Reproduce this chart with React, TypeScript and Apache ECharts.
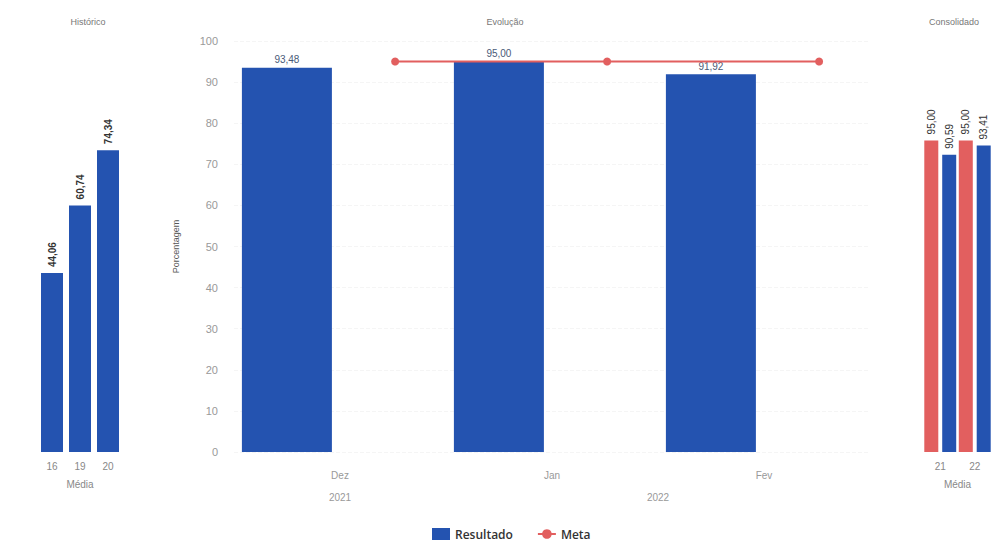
import React, { useEffect, useRef } from "react";
import * as echarts from "echarts";

const HIST_CATEGORIES = ["16", "19", "20"];
const HIST_VALUES = [44.06, 60.74, 74.34];

const MONTHS = ["Dez", "Jan", "Fev"];
const MONTH_YEARS = ["2021", "2022", "2022"];
const RESULTADO = [93.48, 95.0, 91.92];
const META = [95, 95, 95];

const CONS_CATEGORIES = ["21", "22"];
const CONS_META = [95.0, 95.0];
const CONS_RESULTADO = [90.59, 93.41];

const Y_TICKS_MAX = 100;
const Y_TICKS_STEP = 10;

const BLUE = "#2453b0";
const RED = "#e25f5f";
const META_SLOT = 0.26;

const fmt = (v: number) => v.toFixed(2).replace(".", ",");

export default function App() {
  const ref = useRef<HTMLDivElement>(null);
  useEffect(() => {
    if (!ref.current) return;
    const chart = echarts.init(ref.current, null, { renderer: "svg" });

    const yearNames = Array.from(new Set(MONTH_YEARS));
    const yearCenters = yearNames.map((y) => {
      const idx = MONTH_YEARS.map((m, i) => (m === y ? i : -1)).filter((i) => i >= 0);
      return { name: y, at: idx.reduce((a, b) => a + b, 0) / idx.length };
    });

    const font = "'Liberation Sans', Arial, sans-serif";

    chart.setOption({
      animation: false,
      textStyle: { fontFamily: font },
      title: [
        { text: "Histórico", left: 83, top: 12, textAlign: "center", textStyle: { fontSize: 9, fontWeight: "normal", color: "#777", fontFamily: font } },
        { text: "Evolução", left: 500, top: 12, textAlign: "center", textStyle: { fontSize: 9, fontWeight: "normal", color: "#777", fontFamily: font } },
        { text: "Consolidado", left: 924, top: 12, textStyle: { fontSize: 9, fontWeight: "normal", color: "#777", fontFamily: font } },
      ],
      legend: {
        data: [{ name: "Resultado", icon: "rect" }, { name: "Meta" }],
        left: 427,
        top: 523,
        itemWidth: 18,
        itemHeight: 12,
        itemGap: 24,
        textStyle: { fontSize: 12, color: "#333", fontWeight: 600, fontFamily: "'Open Sans', sans-serif" },
      },
      grid: [
        { left: 38, width: 84, top: 46, bottom: 92 },
        { left: 234, right: 122, top: 41, bottom: 92 },
        { left: 923, width: 70, top: 124, bottom: 92 },
      ],
      xAxis: [
        {
          gridIndex: 0, type: "category", data: HIST_CATEGORIES,
          axisLine: { show: false }, axisTick: { show: false },
          axisLabel: { color: "#888", fontSize: 10, margin: 9 },
          name: "Média", nameLocation: "middle", nameGap: 27,
          nameTextStyle: { color: "#888", fontSize: 10 },
        },
        {
          gridIndex: 1, type: "category", data: MONTHS,
          axisLine: { show: false }, axisTick: { show: false },
          axisLabel: { color: "#999", fontSize: 10, margin: 18 },
        },
        {
          gridIndex: 1, type: "value", min: -0.5, max: 2.5, interval: 0.5,
          position: "bottom", offset: 22,
          axisLine: { show: false }, axisTick: { show: false }, splitLine: { show: false },
          axisLabel: {
            color: "#999", fontSize: 10, margin: 18,
            formatter: (v: number) => {
              const f = yearCenters.find((y) => Math.abs(y.at - v) < 1e-6);
              return f ? f.name : "";
            },
          },
        },
        {
          gridIndex: 2, type: "category", data: CONS_CATEGORIES,
          axisLine: { show: false }, axisTick: { show: false },
          axisLabel: { color: "#888", fontSize: 10, margin: 9 },
          name: "Média", nameLocation: "middle", nameGap: 27,
          nameTextStyle: { color: "#888", fontSize: 10 },
        },
      ],
      yAxis: [
        { gridIndex: 0, type: "value", min: 0, max: Y_TICKS_MAX, show: false },
        {
          gridIndex: 1, type: "value", min: 0, max: Y_TICKS_MAX, interval: Y_TICKS_STEP,
          axisLine: { show: false }, axisTick: { show: false },
          axisLabel: { color: "#999", fontSize: 11, margin: 16 },
          splitLine: { lineStyle: { color: "#f5f5f5", type: "dashed" } },
          name: "Porcentagem", nameLocation: "middle", nameGap: 54, nameRotate: 90,
          nameTextStyle: { color: "#555", fontSize: 9 },
        },
        { gridIndex: 2, type: "value", min: 0, max: Y_TICKS_MAX, show: false },
      ],
      series: [
        {
          name: "Histórico", type: "bar", xAxisIndex: 0, yAxisIndex: 0,
          data: HIST_VALUES, barWidth: 22, itemStyle: { color: BLUE },
          label: {
            show: true, position: "top", rotate: 90, align: "left", verticalAlign: "middle",
            distance: 6, fontSize: 10, fontWeight: "bold", color: "#333",
            formatter: (p: any) => fmt(p.value),
          },
        },
        {
          name: "Resultado", type: "bar", xAxisIndex: 1, yAxisIndex: 1,
          data: RESULTADO, barWidth: 90, barGap: "18%", itemStyle: { color: BLUE },
          label: {
            show: true, position: "top", distance: 3, fontSize: 10, color: "#4a5a78",
            formatter: (p: any) => fmt(p.value),
          },
        },
        {
          name: "_metaSlot", type: "bar", xAxisIndex: 1, yAxisIndex: 1,
          data: META, barWidth: 90, itemStyle: { color: "transparent" }, silent: true,
          label: { show: false },
        },
        {
          name: "Meta", type: "line", xAxisIndex: 2, yAxisIndex: 1,
          data: META.map((v, i) => [i + META_SLOT, v]),
          symbol: "circle", symbolSize: 8,
          lineStyle: { color: RED, width: 2 }, itemStyle: { color: RED },
        },
        {
          name: "Meta média", type: "bar", xAxisIndex: 3, yAxisIndex: 2,
          data: CONS_META, barWidth: 14, barGap: "28%", itemStyle: { color: RED },
          label: {
            show: true, position: "top", rotate: 90, align: "left", verticalAlign: "middle",
            distance: 6, fontSize: 10, color: "#333",
            formatter: (p: any) => fmt(p.value),
          },
        },
        {
          name: "Resultado média", type: "bar", xAxisIndex: 3, yAxisIndex: 2,
          data: CONS_RESULTADO, barWidth: 14, itemStyle: { color: BLUE },
          label: {
            show: true, position: "top", rotate: 90, align: "left", verticalAlign: "middle",
            distance: 6, fontSize: 10, color: "#333",
            formatter: (p: any) => fmt(p.value),
          },
        },
      ],
    });
    return () => chart.dispose();
  }, []);
  return (
    <div
      ref={ref}
      style={{ position: "absolute", left: 0, top: 0, width: 992, height: 544, background: "#fff" }}
    />
  );
}
